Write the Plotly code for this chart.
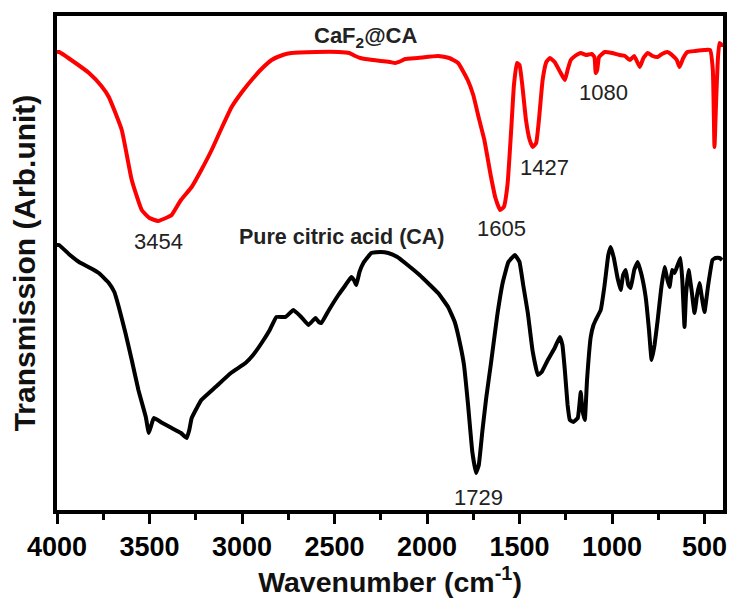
import plotly.graph_objects as go

# CaF2@CA spectrum (wavenumber, transmission arb. units)
caf_wn = [4000, 3989, 3900, 3827, 3760, 3720, 3650, 3596, 3542, 3500, 3454, 3400, 3380, 3330,
          3272, 3220, 3164, 3110, 3056, 3000, 2948, 2900, 2840, 2780, 2733, 2600, 2479, 2420,
          2388, 2360, 2334, 2250, 2200, 2172, 2140, 2118, 2050, 1940, 1880, 1832, 1780, 1750,
          1720, 1690, 1654, 1630, 1605, 1585, 1565, 1545, 1530, 1514, 1500, 1485, 1465, 1445,
          1428, 1410, 1395, 1375, 1355, 1336, 1310, 1280, 1255, 1240, 1223, 1200, 1169, 1140,
          1110, 1095, 1088, 1080, 1070, 1039, 1000, 960, 930, 904, 880, 850, 830, 807, 780,
          753, 730, 700, 670, 650, 635, 615, 592, 550, 500, 470, 455, 446, 437, 428, 419, 405, 400]
caf_py = [52, 52, 63, 73, 86, 97, 130, 180, 210, 218, 221, 217, 215, 200,
          187, 170, 150, 128, 107, 92, 80, 70, 60, 55, 53, 52, 52, 53,
          56, 58, 59, 61, 62, 63, 61, 59, 58, 56, 58, 63, 80, 95,
          118, 140, 177, 198, 210, 207, 185, 130, 85, 63, 65, 85, 120, 140,
          147, 143, 120, 80, 62, 58, 62, 72, 80, 70, 60, 56, 53, 55,
          54, 57, 73, 70, 57, 52, 53, 55, 56, 60, 56, 67, 58, 53, 56,
          57, 54, 52, 56, 60, 67, 58, 52, 51, 50, 50, 70, 147, 100, 60, 43, 45, 45]

# Pure citric acid spectrum
ca_wn = [4000, 3989, 3930, 3881, 3820, 3774, 3720, 3690, 3666, 3630, 3596, 3560, 3520, 3504,
         3490, 3477, 3430, 3380, 3330, 3299, 3285, 3272, 3220, 3143, 3060, 2981, 2940, 2894,
         2850, 2814, 2765, 2722, 2680, 2641, 2603, 2585, 2571, 2530, 2479, 2440, 2409, 2395,
         2382, 2365, 2344, 2301, 2250, 2210, 2160, 2118, 2040, 1940, 1886, 1850, 1820,
         1800, 1778, 1755, 1735, 1720, 1700, 1680, 1654, 1620, 1590, 1560, 1525, 1500, 1480,
         1455, 1430, 1401, 1380, 1347, 1310, 1282, 1268, 1255, 1240, 1228, 1210, 1185, 1169,
         1160, 1147, 1135, 1115, 1100, 1088, 1061, 1040, 1020, 1007, 990, 970, 953, 940, 926,
         912, 899, 880, 861, 840, 818, 800, 786, 770, 753, 735, 716, 700, 689, 675, 662, 645,
         630, 620, 608, 600, 586, 570, 554, 540, 527, 512, 500, 480, 457, 440, 419, 405]
ca_py = [245, 245, 255, 262, 268, 273, 283, 292, 307, 333, 360, 390, 417, 433,
         425, 418, 423, 428, 433, 438, 430, 418, 400, 387, 373, 363, 355, 343,
         330, 317, 317, 310, 317, 325, 318, 322, 323, 310, 295, 285, 277, 280,
         285, 272, 263, 253, 252, 253, 257, 263, 275, 293, 307, 322, 345,
         365, 405, 452, 473, 465, 430, 398, 363, 315, 282, 262, 255, 262, 285,
         313, 350, 375, 372, 360, 348, 337, 345, 370, 405, 420, 422, 418, 392,
         410, 420, 380, 337, 325, 320, 310, 285, 255, 247, 258, 278, 290, 275, 270,
         285, 288, 270, 262, 275, 297, 330, 360, 345, 320, 290, 267, 280, 287, 270, 273, 265,
         258, 280, 327, 295, 270, 290, 313, 295, 283, 300, 312, 285, 260, 258, 258, 260]

BASE = 510
caf_t = [BASE - v for v in caf_py]
ca_t = [BASE - v for v in ca_py]

# labels: (text, x, y, size)
labels = [
    ("<b>CaF<sub>2</sub>@CA</b>", 2334, 473, 22),
    ("<b>Pure citric acid (CA)</b>", 2458, 273, 21.5),
    ("3454", 3454, 269, 22),
    ("1605", 1595, 282, 22),
    ("1427", 1363, 343, 22),
    ("1080", 1045, 418, 22),
    ("1729", 1724, 13, 22),
]

FONT = "Liberation Sans, Arial, sans-serif"

fig = go.Figure()
fig.add_trace(go.Scatter(x=caf_wn, y=caf_t, mode="lines",
                         line=dict(color="#ff0000", width=4, shape="spline", smoothing=0.4),
                         name="CaF2@CA", showlegend=False))
fig.add_trace(go.Scatter(x=ca_wn, y=ca_t, mode="lines",
                         line=dict(color="#000000", width=4, shape="spline", smoothing=0.3),
                         name="Pure citric acid (CA)", showlegend=False))

for text, x, y, s in labels:
    fig.add_annotation(x=x, y=y, xref="x", yref="y", text=text, showarrow=False,
                       font=dict(family=FONT, size=s, color="#222222"))

fig.update_layout(
    width=733, height=603,
    margin=dict(l=57, r=6, t=16, b=93),
    paper_bgcolor="white", plot_bgcolor="white",
    font=dict(family=FONT, color="black"),
)
fig.update_xaxes(
    range=[4000, 400], tick0=500, dtick=500,
    showgrid=False, zeroline=False,
    showline=True, linewidth=4, linecolor="black", mirror=True,
    ticks="outside", ticklen=10, tickwidth=3, tickcolor="black",
    minor=dict(dtick=250, tick0=250, ticks="outside", ticklen=6, tickwidth=3, tickcolor="black"),
    tickfont=dict(family=FONT, size=27, color="black", weight="bold"),
    title=dict(text="<b>Wavenumber (cm<sup>-1</sup>)</b>", font=dict(family=FONT, size=28.5, color="#111111"), standoff=8),
)
fig.update_yaxes(
    range=[0, 494], showticklabels=False, ticks="",
    showgrid=False, zeroline=False,
    showline=True, linewidth=4, linecolor="black", mirror=True,
    title=dict(text="<b>Transmission (Arb.unit)</b>", font=dict(family=FONT, size=30, color="#111111"), standoff=10),
)

fig.write_html("out.html")
